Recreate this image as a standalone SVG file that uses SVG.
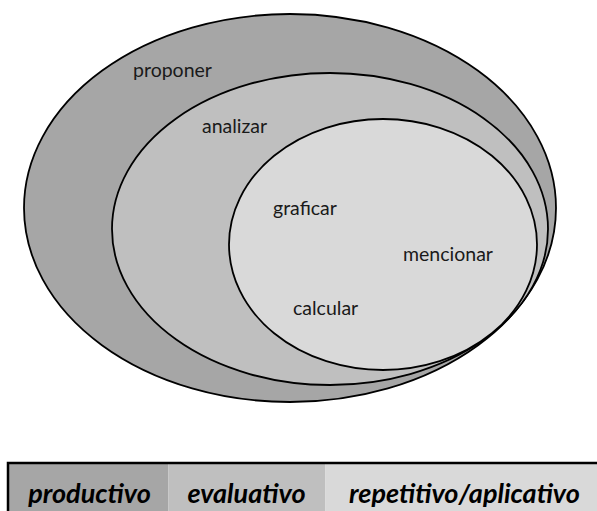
<svg xmlns="http://www.w3.org/2000/svg" width="597" height="511" viewBox="0 0 597 511">
<style>
.ell{stroke:#000;stroke-width:1.8}
.lbl{font-family:Lato,"Liberation Sans",sans-serif;font-size:19.5px;fill:#1a1a1a}
.leg{font-family:Lato,"Liberation Sans",sans-serif;font-size:27px;font-weight:bold;font-style:italic;fill:#000;text-anchor:middle}
</style>
<rect width="597" height="511" fill="#fff"/>
<g id="proponer">
<ellipse class="ell" cx="290" cy="208" rx="266" ry="194" fill="#a6a6a6"/>
<text class="lbl" x="133" y="77">proponer</text>
</g>
<g id="analizar">
<ellipse class="ell" cx="330" cy="229" rx="218" ry="156" fill="#bfbfbf"/>
<text class="lbl" x="202" y="133">analizar</text>
</g>
<g id="repetitivo">
<ellipse class="ell" cx="383" cy="244.5" rx="154" ry="125.5" fill="#d9d9d9"/>
<text class="lbl" x="273" y="215">graficar</text>
<text class="lbl" x="403" y="261">mencionar</text>
<text class="lbl" x="293" y="315">calcular</text>
</g>
<g id="legend">
<rect x="8" y="463" width="160.5" height="60" fill="#a6a6a6"/>
<rect x="168.5" y="463" width="157" height="60" fill="#bfbfbf"/>
<rect x="325.5" y="463" width="280" height="60" fill="#d9d9d9"/>
<path d="M8,520 V463 H600" fill="none" stroke="#000" stroke-width="2.5"/>
<text class="leg" x="89.5" y="503">productivo</text>
<text class="leg" x="246.5" y="503">evaluativo</text>
<text class="leg" x="464.5" y="503">repetitivo/aplicativo</text>
</g>
</svg>
